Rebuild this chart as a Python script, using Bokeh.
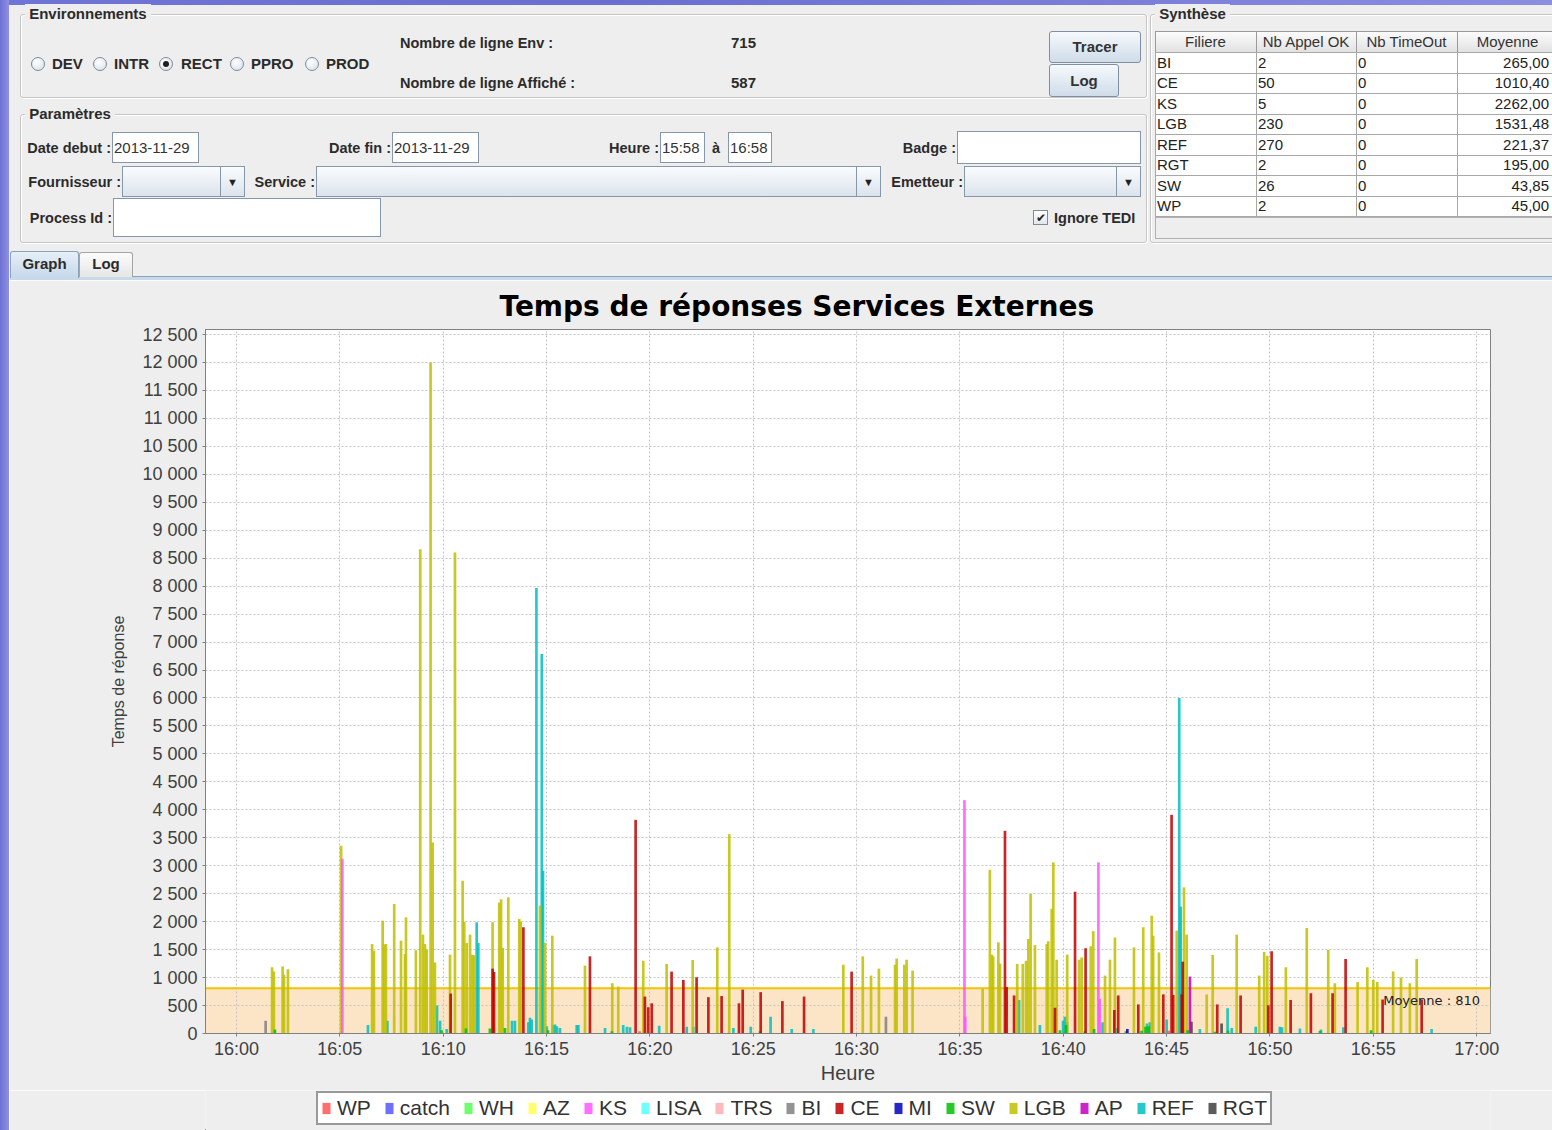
from bokeh.plotting import figure
from bokeh.models import (Range1d, FixedTicker, Legend, LegendItem, BoxAnnotation,
                          Span, Label, Div)
from bokeh.layouts import column, row
from bokeh.embed import file_html
from bokeh.resources import INLINE

# ------------------------------------------------------------------ data
environments = ["DEV", "INTR", "RECT", "PPRO", "PROD"]
selected_env = "RECT"
nb_lignes_env = "715"
nb_lignes_affiche = "587"
date_debut = "2013-11-29"
date_fin = "2013-11-29"
heure_debut = "15:58"
heure_fin = "16:58"

synth_columns = ["Filiere", "Nb Appel OK", "Nb TimeOut", "Moyenne"]
synth_filiere = ["BI", "CE", "KS", "LGB", "REF", "RGT", "SW", "WP"]
synth_nb_ok = ["2", "50", "5", "230", "270", "2", "26", "2"]
synth_nb_timeout = ["0", "0", "0", "0", "0", "0", "0", "0"]
synth_moyenne = ["265,00", "1010,40", "2262,00", "1531,48", "221,37", "195,00", "43,85", "45,00"]

chart_title = "Temps de réponses Services Externes"
moyenne = 810

series_names = ["WP", "catch", "WH", "AZ", "KS", "LISA", "TRS", "BI", "CE", "MI",
                "SW", "LGB", "AP", "REF", "RGT"]
series_colors = ["#FF5555", "#5555FF", "#55FF55", "#FFFF55", "#FF55FF", "#55FFFF",
                 "#FFAFAF", "#808080", "#C00000", "#0000C0", "#00C000", "#C0C000",
                 "#C000C0", "#00C0C0", "#404040"]

# (minutes after 16:00, response time in ms)
wp = [(19.50, 40), (45.10, 50)]
catch = []
wh = []
az = []
ks = [(5.12, 3125), (35.22, 4173), (35.26, 300), (41.70, 3060), (41.76, 620)]
lisa = []
trs = []
bi = [(1.41, 230), (31.42, 300)]
ce = [(10.36, 714), (12.39, 1160), (12.46, 1100), (13.88, 1900), (17.10, 1380),
      (19.31, 3821), (19.76, 660), (19.92, 470), (20.09, 540), (21.05, 1107),
      (21.62, 958), (22.26, 1006), (22.83, 650), (23.47, 670), (24.31, 540),
      (24.49, 785), (25.36, 740), (26.41, 580), (27.46, 660), (29.76, 1107),
      (37.18, 3625), (37.26, 830), (37.62, 680), (39.60, 460), (40.57, 2536),
      (41.08, 1525), (42.47, 420), (42.66, 680), (43.63, 520), (44.84, 700),
      (45.24, 3911), (45.32, 690), (45.73, 700), (45.78, 1285), (47.45, 520),
      (48.58, 680), (49.92, 505), (50.08, 1470), (51.00, 600), (51.98, 720),
      (53.03, 720), (53.66, 1333), (55.45, 610), (57.34, 610)]
mi = [(43.10, 80)]
sw = [(1.86, 70), (9.92, 60), (11.10, 90), (12.26, 90), (12.99, 100), (15.07, 60),
      (18.16, 40), (25.33, 40), (39.84, 60), (40.13, 150), (41.05, 40), (41.49, 80),
      (43.03, 40), (43.79, 50), (43.98, 120), (44.13, 130), (46.02, 60), (47.34, 30),
      (47.97, 50), (52.42, 45), (54.89, 60)]
lgb = [(1.72, 1185), (1.81, 1110), (2.23, 1200), (2.30, 1050), (2.49, 1150), (5.06, 3357),
       (6.56, 1600), (6.65, 1480), (7.07, 2018), (7.14, 1590), (7.23, 1600), (7.63, 2316),
       (7.96, 1660), (8.15, 1420), (8.20, 2077), (8.68, 1490), (8.89, 8660), (9.02, 1768),
       (9.12, 1600), (9.20, 1500), (9.39, 12000), (9.49, 3417), (9.60, 1270), (10.33, 1410),
       (10.57, 8600), (10.94, 2732), (11.02, 2000), (11.14, 1620), (11.30, 1768), (11.41, 1410),
       (11.49, 1400), (12.39, 1990), (12.71, 2340), (12.80, 2400), (12.88, 1530), (13.15, 2435),
       (13.68, 2050), (13.75, 2000), (14.68, 2286), (14.93, 1620), (15.28, 1750), (16.86, 1214),
       (18.18, 900), (18.47, 840), (19.68, 1300), (20.81, 1245), (22.07, 1315), (23.26, 1540),
       (23.84, 3565), (29.36, 1230), (30.30, 1380), (30.70, 1036), (31.08, 1160), (31.86, 1230),
       (31.94, 1340), (32.31, 1230), (32.42, 1320), (32.71, 1125), (36.10, 800), (36.45, 2929),
       (36.54, 1410), (36.61, 1380), (36.86, 1630), (36.94, 1250), (37.77, 1245), (38.04, 1245),
       (38.20, 1300), (38.31, 1690), (38.42, 2494), (38.63, 1580), (39.20, 1600), (39.27, 1650),
       (39.44, 2230), (39.52, 3060), (39.68, 1320), (40.19, 1410), (40.77, 1320), (40.89, 1360),
       (41.33, 1560), (41.45, 1830), (42.02, 1036), (42.26, 1320), (42.50, 1716), (43.42, 1540),
       (43.87, 1900), (44.28, 2107), (44.35, 1750), (44.63, 1450), (45.49, 1840), (45.84, 2613),
       (45.97, 1768), (46.94, 700), (47.23, 1405), (48.39, 1768), (49.48, 1036), (49.72, 1459),
       (49.87, 1390), (50.77, 1185), (51.78, 1887), (52.82, 1495), (53.14, 900), (54.24, 920),
       (54.71, 1185), (55.00, 960), (55.19, 920), (55.96, 1107), (56.34, 1000), (56.77, 900),
       (57.10, 1333)]
ap = [(46.13, 1018)]
ref = [(6.36, 150), (7.30, 230), (9.70, 500), (9.85, 230), (10.17, 80), (11.62, 1988),
       (11.70, 1620), (13.33, 230), (13.47, 230), (14.12, 200), (14.20, 280), (14.28, 250),
       (14.51, 7965), (14.77, 6786), (14.83, 2910), (15.01, 130), (15.31, 150), (15.41, 160),
       (15.50, 130), (15.65, 100), (16.46, 150), (16.54, 150), (17.83, 100), (18.71, 150),
       (18.89, 120), (19.04, 110), (20.45, 140), (21.78, 120), (22.10, 120), (24.04, 100),
       (24.88, 120), (25.84, 300), (26.86, 80), (27.91, 80), (37.86, 600), (38.87, 150),
       (39.99, 230), (40.08, 300), (40.18, 200), (41.90, 200), (42.58, 100), (44.05, 180),
       (44.19, 200), (45.00, 250), (45.61, 6000), (45.68, 2268), (46.61, 80), (47.95, 452),
       (48.15, 100), (49.31, 120), (50.48, 120), (50.58, 110), (51.45, 90), (52.47, 70),
       (53.55, 110), (57.82, 80)]
rgt = [(46.20, 210), (47.66, 180)]

series_data = [wp, catch, wh, az, ks, lisa, trs, bi, ce, mi, sw, lgb, ap, ref, rgt]

x_ticks = [0, 5, 10, 15, 20, 25, 30, 35, 40, 45, 50, 55, 60]
x_tick_labels = ["16:00", "16:05", "16:10", "16:15", "16:20", "16:25", "16:30",
                 "16:35", "16:40", "16:45", "16:50", "16:55", "17:00"]
y_ticks = [0, 500, 1000, 1500, 2000, 2500, 3000, 3500, 4000, 4500, 5000, 5500, 6000,
           6500, 7000, 7500, 8000, 8500, 9000, 9500, 10000, 10500, 11000, 11500, 12000, 12500]
y_tick_labels = ["0", "500", "1 000", "1 500", "2 000", "2 500", "3 000", "3 500", "4 000",
                 "4 500", "5 000", "5 500", "6 000", "6 500", "7 000", "7 500", "8 000",
                 "8 500", "9 000", "9 500", "10 000", "10 500", "11 000", "11 500",
                 "12 000", "12 500"]

# ------------------------------------------------------------------ top GUI (HTML)
W = 1552
TOP_H = 280
STRIP_W = 9
desk = "linear-gradient(90deg,#6C70D2,#8E90E2)"
parts = []


def R(x, y, w, h, style=""):
    parts.append(f'<div style="position:absolute;left:{x}px;top:{y}px;width:{w}px;'
                 f'height:{h}px;box-sizing:border-box;{style}"></div>')


def T(x, y, s, size=14.5, weight="bold", color="#2b2b2b", align="left", w=120, extra=""):
    h = 20
    if align == "left":
        pos = f"left:{x}px;"
    elif align == "right":
        pos = f"left:{x-w}px;width:{w}px;text-align:right;"
    else:
        pos = f"left:{x-w/2}px;width:{w}px;text-align:center;"
    parts.append(f'<div style="position:absolute;{pos}top:{y-h/2}px;height:{h}px;'
                 f'line-height:{h}px;font-size:{size}px;font-weight:{weight};color:{color};'
                 f'white-space:nowrap;{extra}">{s}</div>')


gbox = "border:1px solid #C6C6C6;border-radius:3px;box-shadow:inset 1px 1px 0 #fff,1px 1px 0 #fff;"
inp = "border:1px solid #8497AB;background:#ffffff;"
combo = "border:1px solid #8497AB;background:linear-gradient(#FAFCFE,#DCE3EB);"
btn = "border:1px solid #7E8FA3;border-radius:3px;background:linear-gradient(#F6F9FC,#CFDCE9);"

# desktop edges
R(0, 0, W, 5, "background:linear-gradient(90deg,#7074D4,#6A6ED0 40%,#8A8DE0);")
R(0, 0, STRIP_W, TOP_H, f"background:{desk};")

# Environnements
R(20, 14, 1127, 84, gbox)
T(25, 14, "&nbsp;Environnements&nbsp;", size=15, extra="background:#EEEEEE;")
radio_cx = [37.5, 99.5, 165.5, 236.5, 311.5]
radio_lx = [52, 114, 181, 251, 326]
for env, cx, lx in zip(environments, radio_cx, radio_lx):
    R(cx - 7, 57, 14, 14, "border:1px solid #7D8A99;border-radius:50%;"
      "background:radial-gradient(circle at 40% 35%,#ffffff,#D5DDE6);")
    if env == selected_env:
        R(cx - 3, 61, 6, 6, "border-radius:50%;background:#1E1E1E;")
    T(lx, 64, env, size=15)
T(400, 43, "Nombre de ligne Env :")
T(731, 43, nb_lignes_env, size=15)
T(400, 83, "Nombre de ligne Affiché :")
T(731, 83, nb_lignes_affiche, size=15)
R(1049, 31, 92, 32, btn)
T(1095, 47, "Tracer", size=15, align="center", w=92, color="#333")
R(1049, 64, 70, 33, btn)
T(1084, 81, "Log", size=15, align="center", w=70, color="#333")

# Synthese
R(1150, 14, 430, 229, gbox)
T(1155, 14, "&nbsp;Synthèse&nbsp;", size=15, extra="background:#EEEEEE;")
col_x = [1155, 1256, 1356, 1457]
col_w = [101, 100, 101, 101]
for cx, cw, name in zip(col_x, col_w, synth_columns):
    R(cx, 31, cw + 1, 22, "border:1px solid #9A9A9A;background:linear-gradient(#FBFBFB,#E2E2E2);")
    T(cx + cw / 2, 42, name, size=15, weight="normal", align="center", w=cw, color="#333")
row_h = 20.5
for i, vals in enumerate(zip(synth_filiere, synth_nb_ok, synth_nb_timeout, synth_moyenne)):
    y0 = 52 + i * row_h
    for j, (cx, cw, val) in enumerate(zip(col_x, col_w, vals)):
        R(cx, y0, cw + 1, row_h + 1, "border:1px solid #A8A8A8;background:#ffffff;")
        if j < 3:
            T(cx + 2, y0 + row_h / 2 + 0.5, val, size=15, weight="normal", color="#222")
        else:
            T(W - 3, y0 + row_h / 2 + 0.5, val, size=15, weight="normal",
              align="right", w=cw, color="#222")
R(1155, 217, 420, 22, "border:1px solid #B0B0B0;background:#EEEEEE;")

# Parametres
R(20, 114, 1127, 129, gbox)
T(25, 114, "&nbsp;Paramètres&nbsp;", size=15, extra="background:#EEEEEE;")
T(111, 148, "Date debut :", align="right", w=100)
R(112, 132, 87, 31, inp)
T(114, 148, date_debut, size=15, weight="normal", color="#333")
T(391, 148, "Date fin :", align="right", w=100)
R(392, 132, 87, 31, inp)
T(394, 148, date_fin, size=15, weight="normal", color="#333")
T(659, 148, "Heure :", align="right", w=80)
R(660, 132, 45, 31, inp)
T(662, 148, heure_debut, size=15, weight="normal", color="#333")
T(712, 148, "à")
R(728, 132, 44, 31, inp)
T(730, 148, heure_fin, size=15, weight="normal", color="#333")
T(956, 148, "Badge :", align="right", w=80)
R(957, 131, 184, 33, inp)

T(121, 182, "Fournisseur :", align="right", w=110)
R(122, 166, 123, 31, combo)
R(220, 166, 25, 31, "border-left:1px solid #8497AB;")
T(232.5, 182, "&#9660;", size=11, weight="normal", align="center", w=20, color="#222")
T(315, 182, "Service :", align="right", w=80)
R(316, 166, 565, 31, combo)
R(856, 166, 25, 31, "border-left:1px solid #8497AB;")
T(868.5, 182, "&#9660;", size=11, weight="normal", align="center", w=20, color="#222")
T(963, 182, "Emetteur :", align="right", w=90)
R(964, 166, 177, 31, combo)
R(1116, 166, 25, 31, "border-left:1px solid #8497AB;")
T(1128.5, 182, "&#9660;", size=11, weight="normal", align="center", w=20, color="#222")

T(112, 218, "Process Id :", align="right", w=100)
R(113, 198, 268, 39, inp)
R(1033, 210, 15, 15, "border:1px solid #7D8A99;background:linear-gradient(#ffffff,#E1E6EC);")
T(1040.5, 217.5, "&#10004;", size=12, weight="normal", align="center", w=15, color="#222")
T(1054, 218, "Ignore TEDI")

# Tabs
R(10, 276, 1580, 6, "background:#C8D9EA;border-top:1px solid #8DA2B8;")
R(10, 251, 69, 27, "background:linear-gradient(#E6EFF8,#C6D8EA);border:1px solid #8DA2B8;"
  "border-bottom:none;border-radius:3px 3px 0 0;")
T(44.5, 264, "Graph", size=15, align="center", w=69)
R(79, 252, 54, 25, "background:linear-gradient(#FCFCFC,#E6E6E6);border:1px solid #A5A5A5;"
  "border-bottom:none;border-radius:3px 3px 0 0;")
T(106, 264, "Log", size=15, align="center", w=54)

html = (f'<div style="position:relative;width:{W}px;height:{TOP_H}px;overflow:hidden;'
        f'background:#EEEEEE;font-family:\'Liberation Sans\',Arial,sans-serif;">'
        + "".join(parts) + "</div>")
top_div = Div(text=html, width=W, height=TOP_H, margin=0)

CH = 810   # chart figure height
LH = 40    # legend strip height
strip_div = Div(text=f'<div style="width:{STRIP_W}px;height:{CH+LH}px;background:{desk};"></div>',
                width=STRIP_W, height=CH + LH, margin=0)

# ------------------------------------------------------------------ chart
FW = W - STRIP_W
p = figure(width=FW, height=CH, output_backend="svg", toolbar_location=None,
           x_range=Range1d(-1.50, 60.67), y_range=Range1d(0, 12590),
           min_border_left=196, min_border_right=62, min_border_top=48, min_border_bottom=57,
           background_fill_color="white", border_fill_color="#EEEEEE",
           outline_line_color="#808080", outline_line_width=1, margin=0)

p.title.text = chart_title
p.title.align = "left"
p.title.offset = 294
p.title.text_font = "DejaVu Sans"
p.title.text_font_size = "28px"
p.title.text_font_style = "bold"
p.title.text_color = "black"
p.title.standoff = 14

band = BoxAnnotation(bottom=0, top=moyenne, fill_color="#FCE5C6", fill_alpha=1.0,
                     line_color=None, level="underlay")
p.center = [band] + list(p.center)
p.add_layout(Span(location=moyenne, dimension="width", line_color="#F2C300",
                  line_width=2, level="underlay"))

for name, color, data in reversed(list(zip(series_names, series_colors, series_data))):
    xs = [d[0] for d in data]
    ys = [d[1] for d in data]
    p.vbar(x=xs, top=ys, bottom=0, width=0.13, fill_color=color,
           fill_alpha=0.85, line_color=None)

for ax in (p.xaxis, p.yaxis):
    ax.axis_line_color = "#808080"
    ax.major_tick_line_color = "#808080"
    ax.minor_tick_line_color = None
    ax.major_tick_in = 0
    ax.major_tick_out = 3
    ax.major_label_text_font = "Liberation Sans"
    ax.major_label_text_font_size = "18px"
    ax.major_label_text_color = "#404040"
    ax.axis_label_text_font = "Liberation Sans"
    ax.axis_label_text_font_style = "normal"
    ax.axis_label_text_color = "#404040"

p.xaxis.ticker = FixedTicker(ticks=x_ticks)
p.xaxis.major_label_overrides = dict(zip(x_ticks, x_tick_labels))
p.xaxis.major_label_standoff = 2
p.xaxis.axis_label = "Heure"
p.xaxis.axis_label_text_font_size = "20px"
p.xaxis.axis_label_standoff = 0

p.yaxis.ticker = FixedTicker(ticks=y_ticks)
p.yaxis.major_label_overrides = dict(zip(y_ticks, y_tick_labels))
p.yaxis.major_label_standoff = 5
p.yaxis.axis_label = "Temps de réponse"
p.yaxis.axis_label_text_font_size = "16px"
p.yaxis.axis_label_standoff = 12

p.xgrid.grid_line_color = "#C4C4C4"
p.xgrid.grid_line_dash = "2 2"
p.ygrid.grid_line_color = "#C4C4C4"
p.ygrid.grid_line_dash = "2 2"

p.add_layout(Label(x=60.16, y=589, text=f"Moyenne : {moyenne}", text_align="right",
                   text_baseline="middle", text_font="DejaVu Sans", text_font_size="13px",
                   text_color="#222222"))

# ------------------------------------------------------------------ legend strip
lg = figure(width=FW, height=LH, output_backend="svg", toolbar_location=None,
            x_range=Range1d(0, 1285), y_range=Range1d(0, LH),
            x_axis_type=None, y_axis_type=None, min_border=0,
            background_fill_color="#EEEEEE", border_fill_color="#EEEEEE",
            outline_line_color=None, margin=0)
lg.grid.visible = False
items = []
for name, color in zip(series_names, series_colors):
    # one off-range point per series so that the legend swatch is drawn
    r = lg.vbar(x=[-5000], top=[1], width=1, fill_color=color, fill_alpha=0.85, line_color=None)
    items.append(LegendItem(label=name, renderers=[r]))
legend = Legend(items=items, orientation="horizontal", location=(111, 5),
                label_text_font="Liberation Sans", label_text_font_size="21px",
                label_text_color="#333333", glyph_width=10, glyph_height=14,
                label_standoff=6, spacing=13, padding=3, margin=0,
                border_line_color="#333333", border_line_width=2,
                background_fill_color="white", background_fill_alpha=1.0)
lg.add_layout(legend, "center")

layout = column(top_div, row(strip_div, column(p, lg, spacing=0, margin=0), spacing=0, margin=0),
                spacing=0, margin=0)
open("out.html", "w", encoding="utf-8").write(file_html(layout, INLINE, title="Services Externes"))
